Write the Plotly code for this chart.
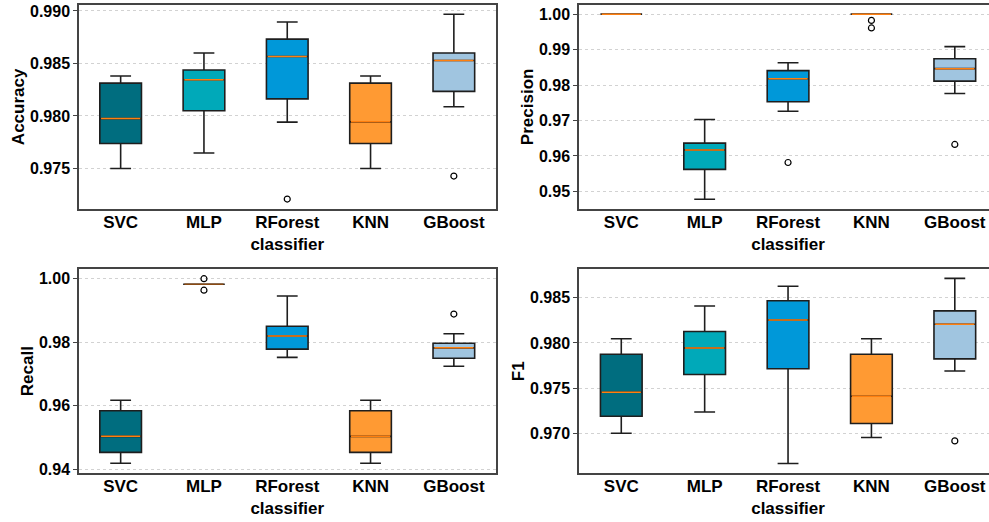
import plotly.graph_objects as go

categories = ["SVC", "MLP", "RForest<br>classifier", "KNN", "GBoost"]
colors = ["#006d7f", "#00a9b9", "#0098d9", "#ff9a33", "#a0c5e0"]

# Accuracy
acc_low = [0.9750, 0.97647, 0.97941, 0.9750, 0.98088]
acc_q1 = [0.97738, 0.9805, 0.98163, 0.97738, 0.98234]
acc_med = [0.97975, 0.98344, 0.98566, 0.97944, 0.98528]
acc_q3 = [0.98313, 0.98438, 0.98731, 0.98313, 0.9860]
acc_high = [0.98381, 0.9860, 0.98894, 0.98381, 0.98969]
acc_out = [[], [], [0.97209], [], [0.97428]]

# Precision
prec_low = [1.0, 0.94778, 0.97259, 1.0, 0.9776]
prec_q1 = [1.0, 0.9562, 0.97528, 1.0, 0.98111]
prec_med = [1.0, 0.96167, 0.98176, 1.0, 0.98463]
prec_q3 = [1.0, 0.96361, 0.98407, 1.0, 0.98741]
prec_high = [1.0, 0.97028, 0.9863, 1.0, 0.99083]
prec_out = [[], [], [0.95815], [0.99824, 0.99611], [0.96324]]

# Recall
rec_low = [0.94196, 0.99825, 0.97526, 0.94196, 0.97247]
rec_q1 = [0.94536, 0.99825, 0.97784, 0.94536, 0.97495]
rec_med = [0.95041, 0.99825, 0.98196, 0.95041, 0.97825]
rec_q3 = [0.95845, 0.99825, 0.98505, 0.95845, 0.97969]
rec_high = [0.96175, 0.99825, 0.99454, 0.96175, 0.98268]
rec_out = [[], [1.0, 0.99639], [], [], [0.98887]]

# F1
f1_low = [0.9700, 0.97236, 0.96666, 0.96953, 0.9769]
f1_q1 = [0.97189, 0.9765, 0.97715, 0.97109, 0.97824]
f1_med = [0.97454, 0.97944, 0.98254, 0.9741, 0.98206]
f1_q3 = [0.97875, 0.98126, 0.98467, 0.97875, 0.98355]
f1_high = [0.98046, 0.98409, 0.98627, 0.98046, 0.98714]
f1_out = [[], [], [], [], [0.96916]]

metrics = [
    dict(name="Accuracy", low=acc_low, q1=acc_q1, med=acc_med, q3=acc_q3, high=acc_high, out=acc_out,
         rng=[0.97116, 0.99052], dtick=0.005, fmt=".3f"),
    dict(name="Precision", low=prec_low, q1=prec_q1, med=prec_med, q3=prec_q3, high=prec_high, out=prec_out,
         rng=[0.94509, 1.00245], dtick=0.01, fmt=".2f"),
    dict(name="Recall", low=rec_low, q1=rec_q1, med=rec_med, q3=rec_q3, high=rec_high, out=rec_out,
         rng=[0.93888, 1.00294], dtick=0.02, fmt=".2f"),
    dict(name="F1", low=f1_low, q1=f1_q1, med=f1_med, q3=f1_q3, high=f1_high, out=f1_out,
         rng=[0.96561, 0.98814], dtick=0.005, fmt=".3f"),
]

W, H = 989, 522
# pixel layout of the four panels: (left, right, top, bottom)
panels = [(79, 495.5, 2.5, 209), (579, 989, 2.5, 209),
          (79, 495.5, 270.5, 477.3), (579, 989, 270.5, 477.3)]
xranges = [[-0.5, 4.5], [-0.507, 4.41], [-0.5, 4.5], [-0.507, 4.41]]
title_x = [18, 527, 27, 518]

fig = go.Figure()
ytickfont = dict(family="Liberation Sans", size=16, color="black", weight="bold")
xtickfont = dict(family="Liberation Sans", size=17, color="black", weight="bold")
positions = list(range(len(categories)))

for i, m in enumerate(metrics):
    xa = "x" if i == 0 else f"x{i+1}"
    ya = "y" if i == 0 else f"y{i+1}"
    for j in positions:
        fig.add_trace(go.Box(
            x=[j], q1=[m["q1"][j]], median=[m["med"][j]], q3=[m["q3"][j]],
            lowerfence=[m["low"][j]], upperfence=[m["high"][j]],
            fillcolor=colors[j], line=dict(color="#1e1e1e", width=1.6),
            width=0.5, whiskerwidth=0.5, boxpoints=False, showlegend=False,
            xaxis=xa, yaxis=ya, hoverinfo="skip"))
        collapsed = m["q1"][j] == m["q3"][j] and m["med"][j] < 1.0
        fig.add_trace(go.Box(
            x=[j], q1=[m["med"][j]], median=[m["med"][j]], q3=[m["med"][j]],
            lowerfence=[m["med"][j]], upperfence=[m["med"][j]],
            fillcolor="rgba(0,0,0,0)",
            line=dict(color="#8a4a12" if collapsed else "#ff7f0e", width=1.5),
            width=0.47, whiskerwidth=0, boxpoints=False, showlegend=False,
            xaxis=xa, yaxis=ya, hoverinfo="skip"))
        if m["out"][j]:
            fig.add_trace(go.Scatter(
                x=[j] * len(m["out"][j]), y=m["out"][j], mode="markers",
                marker=dict(symbol="circle-open", size=6, color="black", line=dict(width=1.2)),
                showlegend=False, xaxis=xa, yaxis=ya, hoverinfo="skip"))

    l, r, t, b = panels[i]
    right_col = i % 2 == 1
    xkey = "xaxis" if i == 0 else f"xaxis{i+1}"
    ykey = "yaxis" if i == 0 else f"yaxis{i+1}"
    fig.update_layout(**{
        xkey: dict(domain=[l / W, min(r / W, 1.0)], anchor=ya, range=xranges[i],
                   tickvals=positions, ticktext=categories, tickfont=xtickfont,
                   showline=True, linecolor="#444444", linewidth=1.5, mirror=True,
                   showgrid=False, zeroline=False, ticks="", ticklabeloverflow="allow",
                   ticklabelstandoff=-3),
        ykey: dict(domain=[(H - b) / H, (H - t) / H], anchor=xa, range=m["rng"],
                   dtick=m["dtick"], tick0=0, tickformat=m["fmt"], tickfont=ytickfont,
                   showline=True, linecolor="#444444", linewidth=1.5,
                   mirror=(not right_col), ticks="outside", ticklen=4, tickcolor="#444444",
                   showgrid=True, gridcolor="#d2d2d2", griddash="dot", gridwidth=0.8,
                   zeroline=False, ticklabeloverflow="allow"),
    })
    fig.add_annotation(text=m["name"], x=title_x[i] / W, y=(H - (t + b) / 2) / H,
                       xref="paper", yref="paper", textangle=-90, showarrow=False,
                       font=dict(family="Liberation Sans", size=17, color="black", weight="bold"),
                       xanchor="center", yanchor="middle")

fig.update_layout(width=W, height=H, margin=dict(l=0, r=0, t=0, b=0),
                  paper_bgcolor="white", plot_bgcolor="white", boxmode="overlay")
fig.write_html("out.html", config={"displayModeBar": False},
               post_script="document.body.style.margin='0px';document.body.style.overflow='hidden';")
